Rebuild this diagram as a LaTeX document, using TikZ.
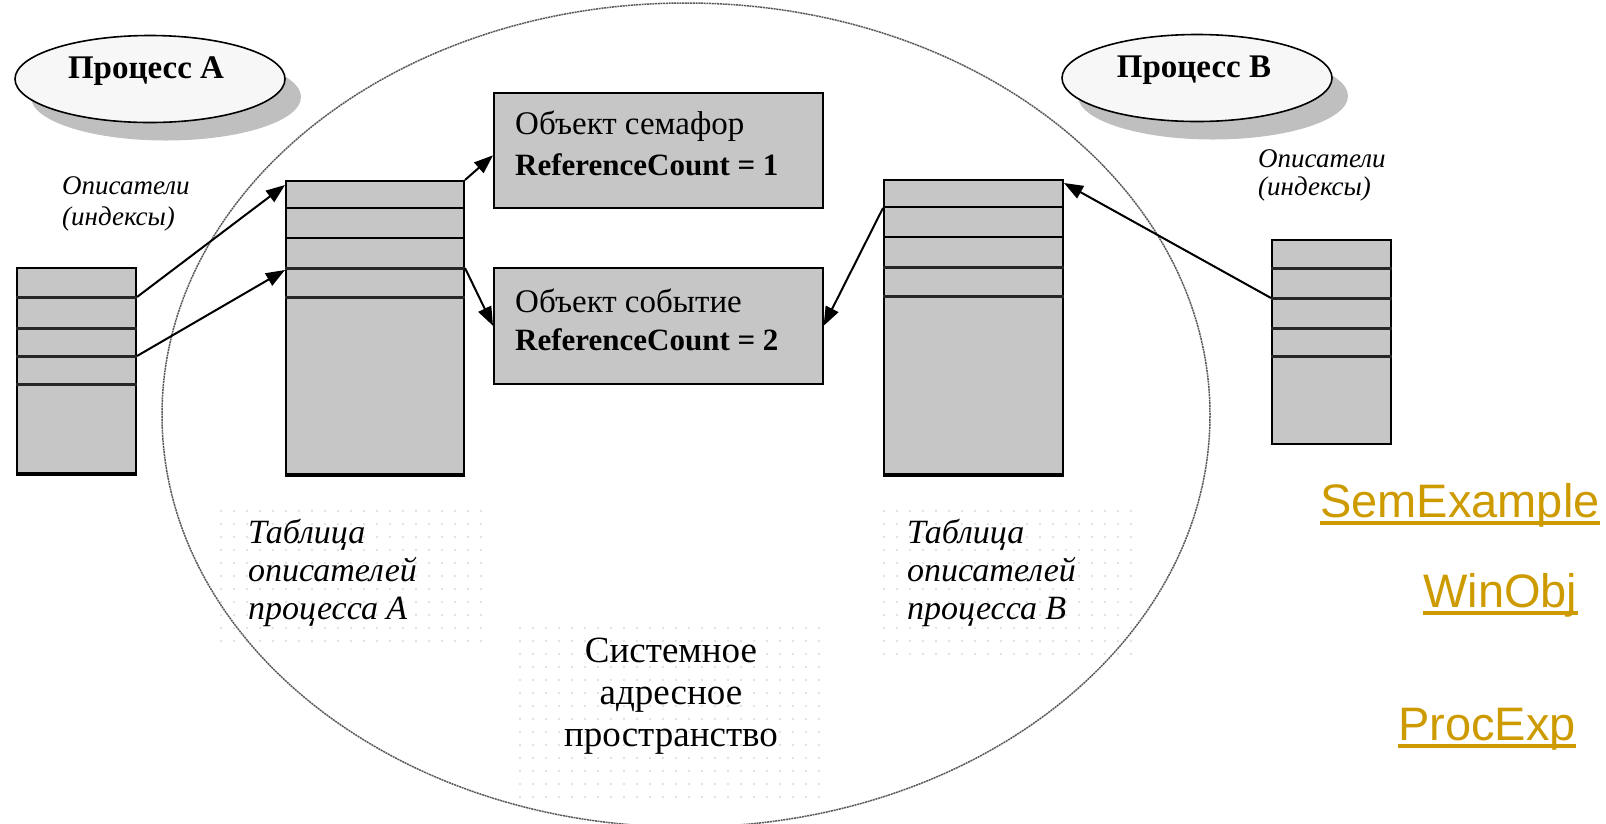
\documentclass[tikz,border=0pt]{standalone}
\usepackage{fontspec}
\setmainfont{Liberation Serif}
\newfontfamily\linkfont{Liberation Sans}
\usetikzlibrary{arrows.meta,calc,shapes.geometric,shadows,patterns.meta}
\definecolor{linkgold}{RGB}{205,155,0}
\tikzdeclarepattern{
  name=faintdots,
  type=uncolored,
  bottom left={(-1.5pt,-1.5pt)},
  top right={(1.5pt,1.5pt)},
  tile size={(13pt,13pt)},
  code={\pgfpathcircle{\pgfpointorigin}{1.2pt}\pgfusepath{fill}}
}

\begin{document}
\begin{tikzpicture}[x=1pt,y=-1pt,
  tbl/.style={draw=black,line width=2pt,fill=gray!45,anchor=north west,inner sep=0pt},
  objbox/.style={tbl,line width=1.6pt},
  thinrow/.style={line width=1.5pt,black},
  thickrow/.style={line width=3pt,gray!30!black},
  arr/.style={-{Triangle[length=19pt,width=14pt]},line width=2pt},
  procell/.style={ellipse,draw=black,line width=1.6pt,fill=gray!6,minimum width=270pt,minimum height=87pt,inner sep=0pt,
    drop shadow={shadow xshift=16pt,shadow yshift=-18pt,fill=gray!50,opacity=1}},
  proctext/.style={inner sep=0pt,anchor=base,font=\fontsize{33}{40}\selectfont\bfseries},
  desctext/.style={inner sep=0pt,anchor=base west,font=\fontsize{27}{32}\selectfont\itshape},
  lbltext/.style={inner sep=0pt,anchor=base west,font=\fontsize{34}{39}\selectfont\itshape},
  systext/.style={inner sep=0pt,anchor=base,font=\fontsize{37}{42}\selectfont},
  boxtext/.style={inner sep=0pt,anchor=base west,font=\fontsize{33}{40}\selectfont},
  linktext/.style={inner sep=0pt,anchor=base west,text=linkgold,font=\fontsize{47}{54}\selectfont\linkfont},
  linkline/.style={line width=4.5pt,linkgold},
  sysline/.style={draw=gray!70!black,line width=1.5pt,dash pattern=on 2pt off 0.7pt},
  dotarea/.style={pattern={faintdots},pattern color=gray!30}]
\useasboundingbox (0,0) rectangle (1606,823);
% faint dotted areas behind labels
\fill[dotarea] (213,507) rectangle (487,650);
\fill[dotarea] (877,507) rectangle (1142,655);
\fill[dotarea] (517,620) rectangle (820,797);
% system address space
\draw[sysline] (686,415) ellipse [x radius=524pt,y radius=412pt];
% processes
\node[procell] (procA) at (150,79) {};
\node[proctext] (procAlbl) at (146,78) {Процесс А};
\node[procell] (procB) at (1197,78) {};
\node[proctext] (procBlbl) at (1194,77) {Процесс В};
% descriptor tables
\node[tbl,minimum width=119pt,minimum height=205pt] (smallA) at (16,267) {};
\node[tbl,minimum width=178pt,minimum height=293pt] (tA) at (285,180) {};
\node[tbl,minimum width=179pt,minimum height=294pt] (tB) at (883,179) {};
\node[tbl,minimum width=119pt,minimum height=204pt] (smallB) at (1271,239) {};
\foreach \r in {28,58} {
  \draw[thinrow] ($(tA.north west)+(0,\r)$) -- ($(tA.north east)+(0,\r)$);
  \draw[thinrow] ($(tB.north west)+(0,\r)$) -- ($(tB.north east)+(0,\r)$);
}
\foreach \r in {88,117} {
  \draw[thickrow] ($(tA.north west)+(0,\r)$) -- ($(tA.north east)+(0,\r)$);
  \draw[thickrow] ($(tB.north west)+(0,\r)$) -- ($(tB.north east)+(0,\r)$);
}
\foreach \r in {30,61,89,117}
  \draw[thickrow] ($(smallA.north west)+(0,\r)$) -- ($(smallA.north east)+(0,\r)$);
\foreach \r in {29,59,89,117}
  \draw[thickrow] ($(smallB.north west)+(0,\r)$) -- ($(smallB.north east)+(0,\r)$);
\draw[line width=4pt] (tA.south west) -- (tA.south east);
\draw[line width=4pt] (tB.south west) -- (tB.south east);
\draw[line width=3pt] (smallA.south west) -- (smallA.south east);
% kernel objects
\node[objbox,minimum width=329pt,minimum height=115pt] (semBox) at (493,92) {};
\node[objbox,minimum width=329pt,minimum height=116pt] (evtBox) at (493,267) {};
\node[boxtext] (semL1) at (515,134) {Объект семафор};
\node[boxtext,font=\fontsize{31}{38}\selectfont\bfseries] (semL2) at (515,175) {ReferenceCount = 1};
\node[boxtext] (evtL1) at (515,312) {Объект событие};
\node[boxtext,font=\fontsize{31}{38}\selectfont\bfseries] (evtL2) at (515,350) {ReferenceCount = 2};
% handles
\draw[arr] ($(smallA.north east)+(0,30)$) -- ($(tA.north west)+(0,5)$);
\draw[arr] ($(smallA.north east)+(0,89)$) -- ($(tA.north west)+(0,90)$);
\draw[arr] (tA.north east) -- ($(semBox.west)+(0,5)$);
\draw[arr] ($(tA.north east)+(0,88)$) -- (evtBox.west);
\draw[arr] ($(tB.north west)+(0,29)$) -- (evtBox.east);
\draw[arr] ($(smallB.north west)+(0,59)$) -- ($(tB.north east)+(0,4)$);
% labels
\node[desctext] (dAl1) at (62,194) {Описатели};
\node[desctext] (dAl2) at (62,225) {(индексы)};
\node[desctext] (dBl1) at (1258,167) {Описатели};
\node[desctext] (dBl2) at (1258,195) {(индексы)};
\foreach \w [count=\i] in {Таблица,описателей,процесса А}
  \node[lbltext] (tAl\i) at (248,505+38*\i) {\w};
\foreach \w [count=\i] in {Таблица,описателей,процесса В}
  \node[lbltext] (tBl\i) at (907,505+38*\i) {\w};
\foreach \w [count=\i] in {Системное,адресное,пространство}
  \node[systext] (sys\i) at (671,620+42*\i) {\w};
% links
\node[linktext] (lnkSem) at (1320,517) {SemExample};
\node[linktext] (lnkWin) at (1423,607) {WinObj};
\node[linktext] (lnkProc) at (1398,740) {ProcExp};
\foreach \l in {lnkSem,lnkWin,lnkProc}
  \draw[linkline] ($(\l.base west)+(0,6)$) -- ($(\l.base east)+(0,6)$);
\end{tikzpicture}
\end{document}
